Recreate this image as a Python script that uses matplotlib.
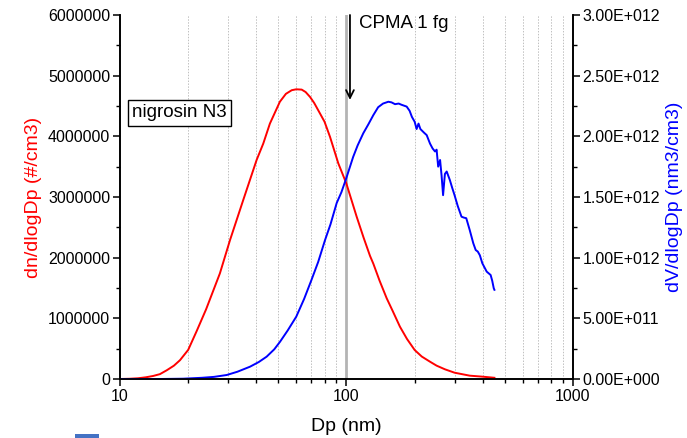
import matplotlib
matplotlib.use("Agg")
import matplotlib.pyplot as plt
from matplotlib.ticker import FixedLocator, FuncFormatter, NullFormatter
from matplotlib.patches import Rectangle

plt.rcParams['font.family'] = ['Liberation Sans', 'DejaVu Sans']

# number distribution (left axis)
dp_n = [10, 11, 12, 13, 14, 15, 16.1, 17.3, 18.4, 20, 21.8, 24, 27.6, 30.6, 35, 40.1,
        42.9, 45.9, 50.8, 54, 57.3, 60, 63.4, 66, 69, 72, 76.3, 80, 84.6, 92, 99.8,
        110.9, 119, 127, 131.4, 140, 150.5, 160, 172.2, 185, 200, 215, 233.8, 250, 272,
        300, 350, 400, 450]
dn = [0.0, 0.004e6, 0.012e6, 0.028e6, 0.05e6, 0.08e6, 0.145e6, 0.22e6, 0.31e6, 0.48e6,
      0.79e6, 1.15e6, 1.74e6, 2.29e6, 2.95e6, 3.61e6, 3.88e6, 4.21e6, 4.57e6, 4.70e6,
      4.76e6, 4.775e6, 4.77e6, 4.73e6, 4.65e6, 4.55e6, 4.38e6, 4.24e6, 3.99e6, 3.555e6,
      3.226e6, 2.675e6, 2.33e6, 2.03e6, 1.90e6, 1.62e6, 1.33e6, 1.12e6, 0.862e6, 0.66e6,
      0.478e6, 0.37e6, 0.285e6, 0.22e6, 0.16e6, 0.104e6, 0.055e6, 0.038e6, 0.02e6]

# volume distribution (right axis)
dp_v = [10, 15, 19, 23, 26, 29.6, 33, 37.5, 41, 44.4, 48, 50.9, 55, 60, 65, 70, 75, 80.4,
        85, 90.5, 95, 99.8, 107, 112, 118.6, 125, 131.4, 138, 145, 153, 158, 163.8, 170,
        175, 184.4, 190, 194.5, 200, 204, 208, 212, 220, 226, 233.8, 240, 246, 250, 254,
        259, 263, 267, 272, 277, 286, 293, 300, 310, 322, 330, 338, 350, 363, 372, 380,
        388, 398, 416, 433, 440, 447, 450]
dv = [0.0, 0.0, 0.0025e12, 0.01e12, 0.0175e12, 0.033e12, 0.06e12, 0.1015e12, 0.14e12,
      0.184e12, 0.245e12, 0.3075e12, 0.4e12, 0.5135e12, 0.66e12, 0.815e12, 0.965e12,
      1.145e12, 1.275e12, 1.45e12, 1.54e12, 1.655e12, 1.83e12, 1.925e12, 2.025e12,
      2.1e12, 2.175e12, 2.24e12, 2.27e12, 2.285e12, 2.28e12, 2.265e12, 2.27e12, 2.26e12,
      2.245e12, 2.21e12, 2.16e12, 2.12e12, 2.06e12, 2.105e12, 2.06e12, 2.03e12, 2.01e12,
      1.94e12, 1.90e12, 1.875e12, 1.89e12, 1.75e12, 1.805e12, 1.675e12, 1.515e12,
      1.69e12, 1.71e12, 1.64e12, 1.575e12, 1.515e12, 1.425e12, 1.3375e12, 1.33e12,
      1.325e12, 1.228e12, 1.1185e12, 1.063e12, 1.05e12, 1.02e12, 0.9535e12, 0.885e12,
      0.857e12, 0.81e12, 0.7475e12, 0.735e12]

left_ticks = [0, 1000000, 2000000, 3000000, 4000000, 5000000, 6000000]
right_ticks = [0, 5e11, 1e12, 1.5e12, 2e12, 2.5e12, 3e12]
x_ticks = [10, 100, 1000]
x_minor = [2, 3, 4, 5, 6, 7, 8, 9]

fig = plt.figure(figsize=(6.87, 4.38), dpi=100)
ax = fig.add_axes([0.1747, 0.1347, 0.834 - 0.1747, 0.9658 - 0.1347])
ax.set_xscale('log')
ax.set_xlim(10, 1000)
ax.set_ylim(0, 6000000)
ax.plot(dp_n, dn, color='red', lw=1.4, zorder=3)

ax2 = ax.twinx()
ax2.set_ylim(0, 3e12)
ax2.plot(dp_v, dv, color='blue', lw=1.4)

# x axis formatting (after twinx)
ax.xaxis.set_major_locator(FixedLocator(x_ticks))
ax.xaxis.set_major_formatter(FuncFormatter(lambda v, p: f"{int(round(v))}"))
ax.xaxis.set_minor_locator(FixedLocator([m * d for d in (10, 100) for m in x_minor]))
ax.xaxis.set_minor_formatter(NullFormatter())
ax.set_xlim(10, 1000)
ax.grid(False)
ax.xaxis.grid(True, which='minor', linestyle=(0, (1.5, 1.5)), color='#c0c0c0', lw=0.7)
ax.axvline(100, color='#b4b4b4', lw=2.0, zorder=1)

ax.yaxis.set_major_locator(FixedLocator(left_ticks))
ax.yaxis.set_minor_locator(FixedLocator([500000 + 1000000 * i for i in range(6)]))
ax.yaxis.set_major_formatter(FuncFormatter(lambda v, p: f"{int(v)}"))

for a in (ax, ax2):
    a.spines['top'].set_visible(False)
    for s in ['left', 'right', 'bottom']:
        a.spines[s].set_linewidth(1.2)
    a.tick_params(which='major', direction='out', length=5, width=1.1, labelsize=11.5, pad=2)
    a.tick_params(which='minor', direction='out', length=3, width=1.0)

ax.set_xlabel('Dp (nm)', fontsize=14, labelpad=10)
ax.set_ylabel('dn/dlogDp (#/cm3)', fontsize=14, color='red', labelpad=4)

ax2.yaxis.set_major_locator(FixedLocator(right_ticks))
ax2.yaxis.set_minor_locator(FixedLocator([2.5e11 + 5e11 * i for i in range(6)]))


def sci(v, p):
    if v == 0:
        return "0.00E+000"
    e = 0
    m = v
    while m >= 10:
        m /= 10
        e += 1
    return f"{m:.2f}E+{e:03d}"


ax2.yaxis.set_major_formatter(FuncFormatter(sci))
ax2.set_ylabel('dV/dlogDp (nm3/cm3)', fontsize=14, color='blue', labelpad=4)

# annotations
ax.text(0.027, 0.731, 'nigrosin N3', transform=ax.transAxes, fontsize=13.5,
        ha='left', va='center',
        bbox=dict(boxstyle='square,pad=0.22', fc='white', ec='black', lw=1.0), zorder=5)
ax.annotate('', xy=(103.6, 4600000), xytext=(103.6, 6000000),
            arrowprops=dict(arrowstyle='->', color='black', lw=1.3,
                            mutation_scale=14, shrinkA=0, shrinkB=0), zorder=6)
ax.text(113, 5860000, 'CPMA 1 fg', fontsize=13.5, ha='left', va='center')

fig.patches.append(Rectangle((75 / 687, 0), 24 / 687, 4 / 438, transform=fig.transFigure,
                             facecolor='#4472C4', edgecolor='none'))

fig.savefig('out.png', dpi=100)
